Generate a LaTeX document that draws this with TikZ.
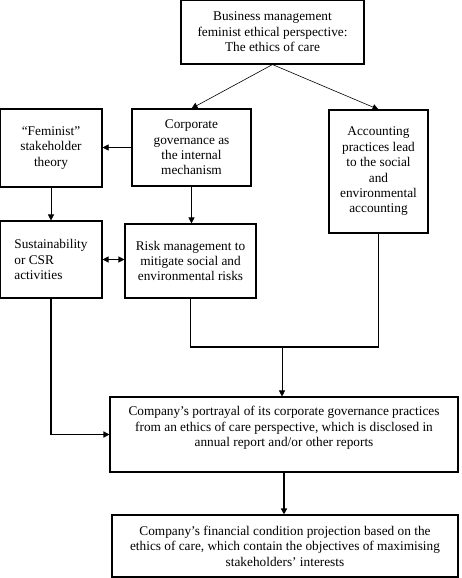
\documentclass[tikz,border=0pt]{standalone}
\usepackage{fontspec}
\setmainfont{Liberation Serif}
\usetikzlibrary{arrows.meta,positioning}

\tikzset{
  blk/.style={draw,line width=1.1pt,inner sep=0pt,align=center},
  thinarr/.style={->,line width=0.6pt},
  heavy/.style={line width=1.8pt}
}

\begin{document}
\begin{tikzpicture}[x=1pt,y=-1pt,>={Triangle[length=6pt,width=6pt]},every node/.style={font=\fontsize{13.3}{15.4}\selectfont}]
\useasboundingbox (0,0) rectangle (462,578);
\node[blk,minimum width=183,minimum height=64] (ethics) at (272.5,32) {Business management\\feminist ethical perspective:\\The ethics of care};
\node[blk,minimum width=119,minimum height=77] (gov) at (191.5,147.5) {Corporate\\governance as\\the internal\\mechanism};
\node[blk,minimum width=102,minimum height=78] (fem) at (51,148) {``Feminist''\\stakeholder\\theory};
\node[blk,minimum width=99,minimum height=123] (acc) at (378.5,171.5) {Accounting\\practices lead\\to the social\\and\\environmental\\accounting};
\node[blk,align=left,minimum width=102,minimum height=77] (csr) at (51,259.5) {Sustainability\\or CSR\\activities};
\node[blk,minimum width=131,minimum height=74] (risk) at (190.5,261) {Risk management to\\mitigate social and\\environmental risks};
\node[blk,minimum width=348,minimum height=75,text depth=16pt] (port) at (284,434.5) {Company's portrayal of its corporate governance practices\\from an ethics of care perspective, which is disclosed in\\annual report and/or other reports};
\node[blk,minimum width=346,minimum height=62] (fin) at (285,546) {Company's financial condition projection based on the\\ethics of care, which contain the objectives of maximising\\stakeholders' interests};
\coordinate (join) at (282,347);
% thin arrows
\draw[thinarr] (ethics.south) -- (gov.north);
\draw[thinarr] (ethics.south) -- (acc.north);
\draw[thinarr] (gov.west) -- (gov.west -| fem.east);
\draw[thinarr] (fem.south) -- (csr.north);
\draw[thinarr] (gov.south) -- (gov.south |- risk.north);
\draw[<->,line width=1.1pt] (csr.east) -- (csr.east -| risk.west);
% heavy lines
\draw[heavy] (risk.south) |- (join) -| (acc.south);
\draw[thinarr] (join) -- (join |- port.north);
\draw[heavy,->] (csr.south) |- (port.west);
\draw[heavy,->] (port.south) -- (port.south |- fin.north);
\end{tikzpicture}
\end{document}
